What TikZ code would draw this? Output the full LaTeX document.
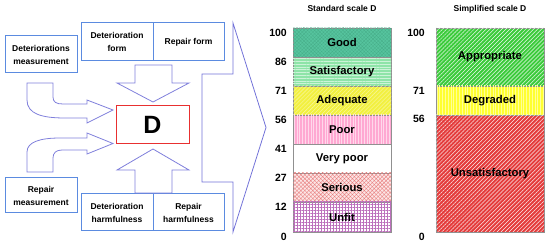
\documentclass[tikz,border=0pt]{standalone}
\usepackage{fontspec}
\setmainfont{Liberation Sans}
\usetikzlibrary{patterns,patterns.meta}
\definecolor{boxblue}{HTML}{5B8BE0}
\definecolor{arrblue}{HTML}{8080DC}
\definecolor{chevblue}{HTML}{7272D8}
\definecolor{dred}{HTML}{E83030}
\definecolor{goodc}{HTML}{56C49E}
\definecolor{goodd}{HTML}{46AC88}
\definecolor{satc}{HTML}{8EE4A8}
\definecolor{adeqc}{HTML}{F2F040}
\definecolor{poorc}{HTML}{FFA8D2}
\definecolor{serc}{HTML}{E88080}
\definecolor{serb}{HTML}{FCE6E6}
\definecolor{unfitc}{HTML}{BC70BC}
\definecolor{apprc}{HTML}{3CCB3C}
\definecolor{degc}{HTML}{FFFF30}
\definecolor{unsc}{HTML}{E43C3C}
\definecolor{segline}{HTML}{909090}
\begin{document}
\begin{tikzpicture}[x=1pt,y=-1pt,
  lbl/.style={font=\fontsize{8.5}{13}\selectfont\bfseries, align=center, text=black},
  bbox/.style={draw=boxblue, line width=1pt, inner sep=0pt, lbl},
  barrow/.style={draw=arrblue, line width=0.8pt, fill=white, line join=miter},
  seg/.style={draw=segline, line width=0.6pt, inner sep=0pt, font=\fontsize{11.3}{13}\selectfont\bfseries},
  sseg/.style={seg, minimum width=98pt},
  pseg/.style={seg, minimum width=108pt},
  num/.style={anchor=east, inner sep=0pt, font=\fontsize{10.5}{12}\selectfont\bfseries},
  ttl/.style={inner sep=0pt, font=\fontsize{8.5}{10}\selectfont\bfseries}
]
\useasboundingbox (0,0) rectangle (550,246);

% left boxes
\node[bbox, minimum width=72pt, minimum height=37pt] (dm) at (41,54.5) {Deteriorations\\measurement};
\node[bbox, minimum width=72pt, minimum height=35pt] (rm) at (41,195.5) {Repair\\measurement};
\node[bbox, minimum width=72pt, minimum height=38pt] (df) at (117,42) {Deterioration\\form};
\node[bbox, minimum width=71pt, minimum height=38pt] (rf) at (188.5,42) {Repair form};
\node[bbox, minimum width=72pt, minimum height=37pt] (dh) at (117,212.5) {Deterioration\\harmfulness};
\node[bbox, minimum width=71pt, minimum height=37pt] (rh) at (188.5,212.5) {Repair\\harmfulness};
\node[draw=dred, line width=1pt, minimum width=73pt, minimum height=38pt, inner sep=0pt,
      font=\fontsize{25}{28}\selectfont\bfseries] (D) at (152.5,125) {D};

% block arrows
\draw[barrow] (135,65) -- (172,65) -- (172,83) -- (189,83) -- (153,102) -- (117,83) -- (135,83) -- cycle;
\draw[barrow] (135,193) -- (172,193) -- (172,170) -- (189,170) -- (153,149) -- (117,170) -- (135,170) -- cycle;
\draw[barrow] (27,83) -- (53,83) -- (53,97) .. controls (53,102) and (56,104) .. (63,104) -- (87,104) -- (87,100)
  -- (113,110) -- (87,123) -- (87,118) -- (65,118) .. controls (42,118) and (27,114) .. (27,100) -- cycle;
\draw[barrow] (27,172) -- (27,152) .. controls (27,142) and (40,138) .. (60,138) -- (87,138) -- (87,133)
  -- (113,143.5) -- (87,154) -- (87,150) -- (62,150) .. controls (56,150) and (53,153) .. (53,158) -- (53,172) -- cycle;

% chevron
\draw[chevblue, line width=0.8pt, line join=miter] (233,23) -- (266,127.5) -- (233,232) -- (233,182) -- (202,182)
  -- (202,74) -- (233,74) -- cycle;

% standard scale
\node[ttl] (t1) at (342,8) {Standard scale D};
\node[sseg, minimum height=29pt, fill=goodc, postaction={pattern={Hatch[angle=45,distance=2.5pt,line width=0.25pt]}, pattern color=goodd}] (s1) at (342,42.5) {Good};
\node[sseg, minimum height=29pt, fill=satc, postaction={pattern={Lines[angle=0,distance=2.8pt,line width=0.4pt]}, pattern color=white!55!satc}] (s2) at (342,71.5) {Satisfactory};
\node[sseg, minimum height=29pt, fill=adeqc, postaction={pattern={Lines[angle=45,distance=2.8pt,line width=0.4pt]}, pattern color=white!55!adeqc}] (s3) at (342,100.5) {Adequate};
\node[sseg, minimum height=29pt, fill=poorc, postaction={pattern={Lines[angle=90,distance=2.8pt,line width=0.4pt]}, pattern color=white!55!poorc}] (s4) at (342,129.5) {Poor};
\node[sseg, minimum height=29pt, fill=white] (s5) at (342,158.5) {Very poor};
\node[sseg, minimum height=29pt, fill=serb, postaction={pattern={Hatch[angle=45,distance=2.8pt,line width=0.4pt]}, pattern color=serc}] (s6) at (342,187.5) {Serious};
\node[sseg, minimum height=30pt, fill=white, postaction={pattern={Hatch[angle=0,distance=3pt,line width=0.35pt]}, pattern color=unfitc}] (s7) at (342,217) {Unfit};
\foreach \v/\y in {100/33,86/62,71/91,56/120,41/149,27/178,12/207,0/237}
  \node[num] (n\v) at (287,\y) {\v};

% simplified scale
\node[ttl] (t2) at (490,9) {Simplified scale D};
\node[pseg, minimum height=58pt, fill=apprc, postaction={pattern={Lines[angle=45,distance=2.8pt,line width=0.5pt]}, pattern color=white!90!apprc}] (p1) at (490,57) {Appropriate};
\node[pseg, minimum height=29pt, fill=degc, postaction={pattern={Lines[angle=90,distance=2.8pt,line width=0.35pt]}, pattern color=white!50!degc}] (p2) at (490,100.5) {Degraded};
\node[pseg, minimum height=117pt, fill=unsc, postaction={pattern={Lines[angle=45,distance=2.8pt,line width=0.5pt]}, pattern color=white!90!unsc}] (p3) at (490,173.5) {Unsatisfactory};
\foreach \v/\y in {100/33,71/91,56/119,0/237}
  \node[num] (m\v) at (425,\y) {\v};
\end{tikzpicture}
\end{document}
